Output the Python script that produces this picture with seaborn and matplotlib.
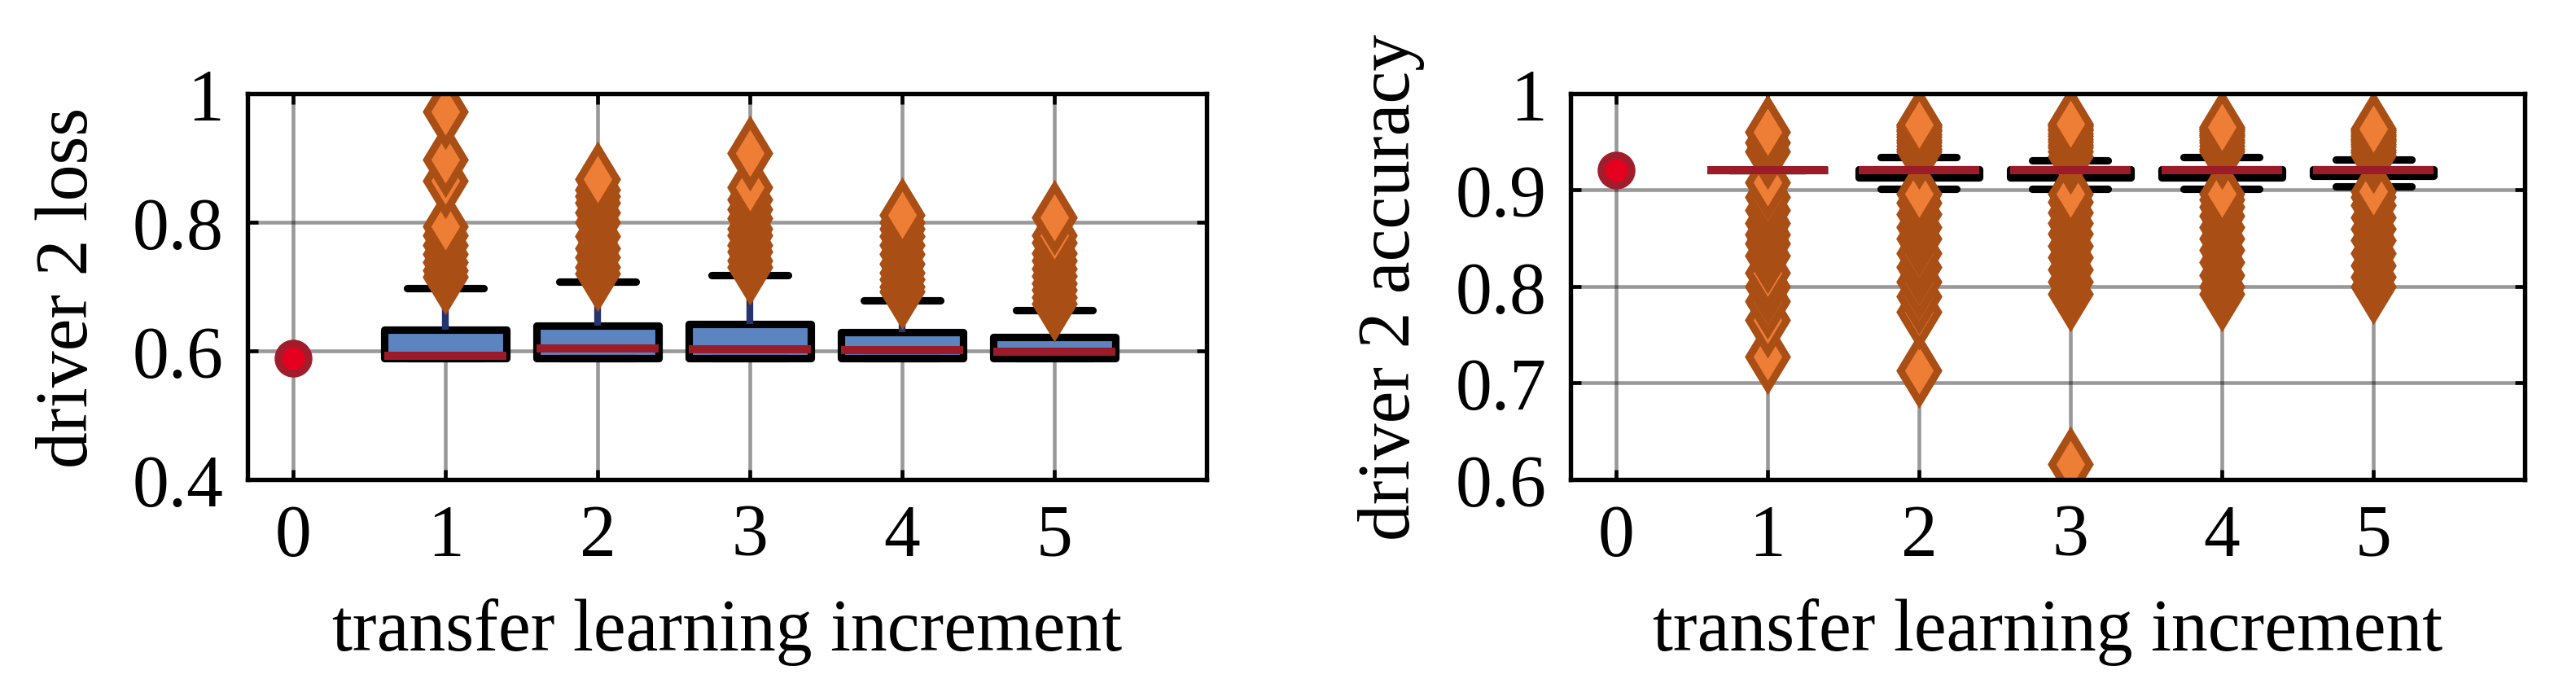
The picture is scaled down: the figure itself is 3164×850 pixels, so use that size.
import numpy as np
import pandas as pd
import seaborn as sns
import matplotlib.pyplot as plt
from matplotlib.ticker import FuncFormatter

# --- data ---
increments = [1, 2, 3, 4, 5]
tick_positions = [0, 1, 2, 3, 4, 5]

# increment 0 (before transfer learning) is a single value
loss_start = 0.589
acc_start = 0.921

# driver 2 loss per transfer learning increment (runs)
loss_inc1 = [0.588] * 13 + [0.592] * 12 + [0.633] * 12 + [0.650, 0.697, 0.715, 0.725, 0.738, 0.750, 0.764, 0.780, 0.794, 0.864, 0.898, 0.972]
loss_inc2 = [0.588] * 13 + [0.604] * 12 + [0.639] * 12 + [0.708, 0.720, 0.730, 0.745, 0.760, 0.778, 0.800, 0.815, 0.830, 0.840, 0.850, 0.867]
loss_inc3 = [0.588] * 13 + [0.602] * 12 + [0.6415] * 12 + [0.718, 0.730, 0.740, 0.755, 0.765, 0.780, 0.790, 0.806, 0.820, 0.836, 0.854, 0.907]
loss_inc4 = [0.588] * 13 + [0.601] * 12 + [0.629] * 12 + [0.679, 0.692, 0.700, 0.712, 0.722, 0.735, 0.750, 0.765, 0.778, 0.790, 0.800, 0.811]
loss_inc5 = [0.588] * 13 + [0.599] * 12 + [0.621] * 12 + [0.663, 0.674, 0.684, 0.695, 0.705, 0.716, 0.728, 0.740, 0.752, 0.768, 0.780, 0.807]

# driver 2 accuracy per transfer learning increment (runs)
acc_inc1 = [0.7275, 0.765, 0.785, 0.800, 0.814, 0.832, 0.845, 0.854, 0.866, 0.879, 0.893, 0.908] + [0.921] * 50 + [0.940, 0.949, 0.960]
acc_inc2 = ([0.713, 0.774, 0.790, 0.805, 0.820, 0.835, 0.850, 0.862, 0.875, 0.887, 0.896, 0.901, 0.905, 0.908, 0.910, 0.912]
            + [0.9133] * 9 + [0.921] * 8 + [0.9218] * 16
            + [0.925, 0.928, 0.931, 0.9345, 0.940, 0.943, 0.946, 0.949, 0.952, 0.955, 0.958, 0.961, 0.963, 0.965, 0.967, 0.968])
acc_inc3 = ([0.616, 0.792, 0.805, 0.818, 0.830, 0.842, 0.855, 0.866, 0.877, 0.888, 0.896, 0.901, 0.905, 0.908, 0.910, 0.912]
            + [0.9133] * 9 + [0.921] * 8 + [0.9218] * 16
            + [0.925, 0.928, 0.931, 0.9346, 0.940, 0.944, 0.947, 0.950, 0.953, 0.956, 0.959, 0.962, 0.964, 0.966, 0.968, 0.969])
acc_inc4 = ([0.792, 0.800, 0.812, 0.825, 0.838, 0.850, 0.862, 0.873, 0.883, 0.890, 0.896, 0.901, 0.905, 0.908, 0.910, 0.912]
            + [0.9133] * 9 + [0.921] * 8 + [0.9218] * 16
            + [0.925, 0.928, 0.931, 0.9343, 0.940, 0.943, 0.946, 0.949, 0.952, 0.955, 0.957, 0.959, 0.961, 0.963, 0.964, 0.965])
acc_inc5 = ([0.800, 0.810, 0.822, 0.835, 0.848, 0.860, 0.872, 0.884, 0.893, 0.899, 0.9042, 0.907, 0.909, 0.911, 0.912, 0.913]
            + [0.9145] * 9 + [0.921] * 8 + [0.9215] * 16
            + [0.924, 0.927, 0.9317, 0.936, 0.939, 0.942, 0.945, 0.948, 0.950, 0.952, 0.954, 0.956, 0.958, 0.960, 0.962, 0.964])

loss_ticks = [0.4, 0.6, 0.8, 1.0]
acc_ticks = [0.6, 0.7, 0.8, 0.9, 1.0]

# colours
BOX_BLUE = '#5B84C1'
MEDIAN_RED = '#9B1C28'
WHISKER_BLUE = '#23346E'
FLIER_FILL = '#EE7D35'
FLIER_EDGE = '#A94E15'
START_FILL = '#E6001F'
START_EDGE = '#A21D2C'


def to_long(samples, name):
    rows = []
    for inc, vals in zip(increments, samples):
        rows += [(inc, v) for v in vals]
    return pd.DataFrame(rows, columns=['increment', name])


def draw_panel(ax, df, column, start, ylim, yticks, ylabel):
    sns.boxplot(
        data=df, x='increment', y=column, native_scale=True, width=0.8, ax=ax,
        color=BOX_BLUE, linecolor='k', linewidth=2.2, capwidths=0.5,
        boxprops=dict(facecolor=BOX_BLUE, edgecolor='k', linewidth=2.2, joinstyle='round'),
        medianprops=dict(color=MEDIAN_RED, linewidth=2.4),
        whiskerprops=dict(color=WHISKER_BLUE, linewidth=2.0),
        capprops=dict(color='k', linewidth=2.2),
        flierprops=dict(marker='d', markersize=13, markerfacecolor=FLIER_FILL,
                        markeredgecolor=FLIER_EDGE, markeredgewidth=2.2),
    )
    # single value before transfer learning
    sns.scatterplot(x=[0], y=[start], ax=ax, s=80, color=START_FILL,
                    edgecolor=START_EDGE, linewidth=2.2, zorder=5)

    ax.set_xlim(-0.3, 6.0)
    ax.set_ylim(*ylim)
    ax.set_xticks(tick_positions)
    ax.set_yticks(yticks)
    ax.yaxis.set_major_formatter(FuncFormatter(lambda v, p: f'{v:g}'))

    ax.grid(True, color='k', alpha=0.4, linewidth=1.1)
    ax.set_axisbelow(True)
    ax.tick_params(direction='in', top=True, right=True, length=3, width=1.1,
                   pad=7, labelsize=21.5, colors='k')
    for sp in ax.spines.values():
        sp.set_linewidth(1.3)
        sp.set_color('k')

    ax.set_xlabel('transfer learning increment', fontsize=21.5, labelpad=8, color='k')
    ax.set_ylabel(ylabel, fontsize=21.5, labelpad=9, color='k')


sns.set_style('ticks')
plt.rcParams['font.family'] = ['Liberation Serif', 'DejaVu Serif']
plt.rcParams['text.color'] = 'k'
plt.rcParams['axes.labelcolor'] = 'k'

loss_df = to_long([loss_inc1, loss_inc2, loss_inc3, loss_inc4, loss_inc5], 'loss')
acc_df = to_long([acc_inc1, acc_inc2, acc_inc3, acc_inc4, acc_inc5], 'accuracy')

fig = plt.figure(figsize=(3164 / 300, 851 / 300), dpi=300)
ax_loss = fig.add_axes([0.0961, 0.3067, 0.3723, 0.557])
ax_acc = fig.add_axes([0.6097, 0.3067, 0.3704, 0.557])

draw_panel(ax_loss, loss_df, 'loss', loss_start, (0.4, 1.0), loss_ticks, 'driver 2 loss')
draw_panel(ax_acc, acc_df, 'accuracy', acc_start, (0.6, 1.0), acc_ticks, 'driver 2 accuracy')

fig.savefig('out.png', dpi=300)
